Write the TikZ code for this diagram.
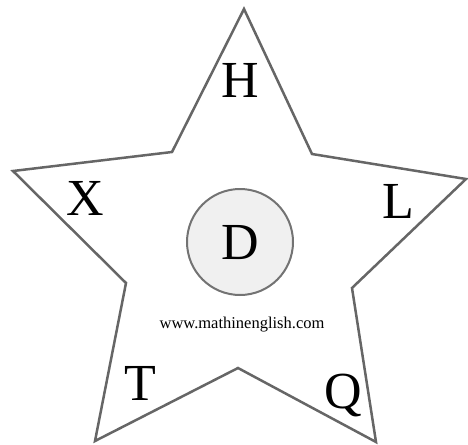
\documentclass[tikz,border=0pt]{standalone}
\usepackage{fontspec}
\setmainfont{Liberation Serif}
\begin{document}
\begin{tikzpicture}[x=1pt,y=-1pt,
  letter/.style={font=\fontsize{52}{52}\selectfont, text=black, inner sep=0pt},
  starline/.style={draw=black!60, line width=2.5pt, line join=miter},
  disc/.style={circle, draw=black!55, fill=black!6, line width=2pt, minimum size=106pt, inner sep=0pt}]
\useasboundingbox (0,0) rectangle (468,444);
\coordinate (p1) at (244,9);
\coordinate (p2) at (312,154);
\coordinate (p3) at (466,179);
\coordinate (p4) at (352,288);
\coordinate (p5) at (376,442);
\coordinate (p6) at (238,368);
\coordinate (p7) at (95,441);
\coordinate (p8) at (126,283);
\coordinate (p9) at (13,171);
\coordinate (p10) at (172,152);
\draw[starline] (p1) -- (p2) -- (p3) -- (p4) -- (p5) -- (p6) -- (p7) -- (p8) -- (p9) -- (p10) -- cycle;
\node[disc] (c) at (240,242) {};
\node[letter] (d) at (240,243) {D};
\node[letter] (h) at (240,80) {H};
\node[letter] (x) at (85,198) {X};
\node[letter] (l) at (398,201) {L};
\node[letter] (t) at (140,383) {T};
\node[letter] (q) at (343,395) {Q};
\node[font=\fontsize{16.5}{16.5}\selectfont, inner sep=0pt] (url) at (242,325) {www.mathinenglish.com};
\end{tikzpicture}
\end{document}
